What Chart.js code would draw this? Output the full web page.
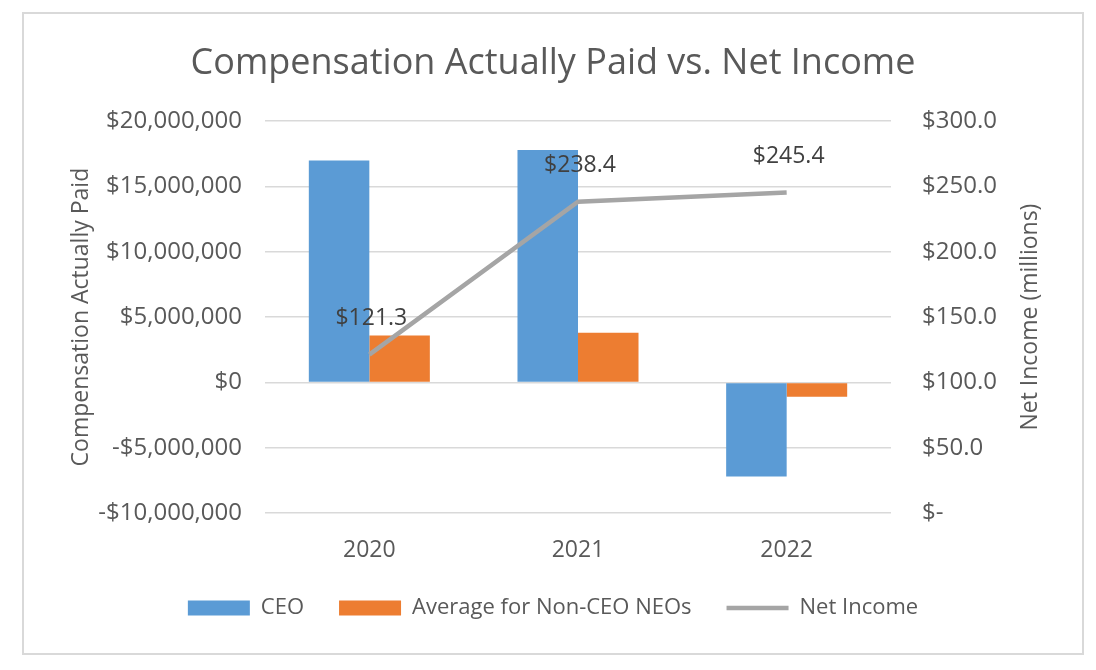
<!DOCTYPE html>
<html>
<head>
<meta charset="utf-8">
<script src="https://cdn.jsdelivr.net/npm/chart.js@4"></script>
<style>
  body { margin: 0; background: #fff; width: 1096px; height: 670px; overflow: hidden; }
  #wrap { position: absolute; left: 22px; top: 12px; width: 1058px; height: 639px; border: 2px solid #d9d9d9; }
</style>
</head>
<body>
<div id="wrap"><canvas id="chart"></canvas></div>
<script>
// values
const years = ["2020", "2021", "2022"]
const ceoPaid = [17000000, 17800000, -7200000]
const neoPaid = [3600000, 3800000, -1100000]
const netIncome = [121.3, 238.4, 245.4]

const textColor = "#595959"
const fontFamily = "'Open Sans', sans-serif"

const money = new Intl.NumberFormat("en-US", { maximumFractionDigits: 0 })
function formatPaid(v) {
  return (v < 0 ? "-$" : "$") + money.format(Math.abs(v))
}
function formatIncome(v) {
  return v === 0 ? "$-" : "$" + v.toFixed(1)
}

// labels above the net income points
const pointLabels = {
  id: "pointLabels",
  afterDatasetsDraw(chart) {
    const meta = chart.getDatasetMeta(2)
    const ctx = chart.ctx
    ctx.save()
    ctx.font = "23px " + fontFamily
    ctx.fillStyle = "#404040"
    ctx.textAlign = "center"
    ctx.textBaseline = "middle"
    meta.data.forEach((pt, i) => {
      ctx.fillText(formatIncome(netIncome[i]), pt.x + 2, pt.y - 36)
    })
    ctx.restore()
  }
}

// right axis title, reading bottom to top like the left one
const rightTitle = {
  id: "rightTitle",
  afterDraw(chart) {
    const { ctx, chartArea } = chart
    const scale = chart.scales.y1
    ctx.save()
    ctx.font = "23px " + fontFamily
    ctx.fillStyle = textColor
    ctx.textAlign = "center"
    ctx.textBaseline = "middle"
    ctx.translate(scale.right - 52, (chartArea.top + chartArea.bottom) / 2)
    ctx.rotate(-Math.PI / 2)
    ctx.fillText("Net Income (millions)", 0, 0)
    ctx.restore()
  }
}

new Chart(document.getElementById("chart"), {
  type: "bar",
  data: {
    labels: years,
    datasets: [
      {
        label: "CEO",
        data: ceoPaid,
        backgroundColor: "#5b9bd5",
        yAxisID: "y",
        order: 1
      },
      {
        label: "Average for Non-CEO NEOs",
        data: neoPaid,
        backgroundColor: "#ed7d31",
        yAxisID: "y",
        order: 1
      },
      {
        type: "line",
        label: "Net Income",
        data: netIncome,
        borderColor: "#a5a5a5",
        backgroundColor: "#a5a5a5",
        borderWidth: 4.5,
        pointRadius: 0,
        tension: 0,
        yAxisID: "y1",
        order: 0
      }
    ]
  },
  options: {
    responsive: true,
    maintainAspectRatio: false,
    animation: false,
    categoryPercentage: 0.58,
    barPercentage: 1,
    layout: { padding: { left: 0, right: 0, top: 0, bottom: 24 } },
    plugins: {
      title: {
        display: true,
        text: "Compensation Actually Paid vs. Net Income",
        color: textColor,
        font: { family: fontFamily, size: 36, weight: "normal" },
        padding: { top: 28, bottom: 36 }
      },
      legend: {
        position: "bottom",
        labels: {
          color: textColor,
          font: { family: fontFamily, size: 22 },
          usePointStyle: true,
          pointStyleWidth: 62,
          boxHeight: 15,
          padding: 35,
          sort: (a, b) => a.datasetIndex - b.datasetIndex,
          generateLabels(chart) {
            const items = Chart.defaults.plugins.legend.labels.generateLabels(chart)
            items.forEach(item => {
              if (item.datasetIndex === 2) {
                item.pointStyle = "line"
                item.lineWidth = 4.5
              } else {
                item.pointStyle = "rect"
                item.lineWidth = 0
              }
            })
            return items
          }
        }
      },
      tooltip: { enabled: false }
    },
    scales: {
      x: {
        grid: { display: false },
        border: { display: false },
        ticks: { color: textColor, font: { family: fontFamily, size: 23 }, padding: 16 },
        afterFit(scale) { scale.height = 49 }
      },
      y: {
        position: "left",
        min: -10000000,
        max: 20000000,
        ticks: {
          stepSize: 5000000,
          color: textColor,
          font: { family: fontFamily, size: 24 },
          padding: 23,
          callback: v => formatPaid(v)
        },
        grid: { color: "#d9d9d9", lineWidth: 1.5, drawTicks: false },
        border: { display: false },
        title: {
          display: true,
          text: "Compensation Actually Paid",
          color: textColor,
          font: { family: fontFamily, size: 23 },
          padding: { top: 44, bottom: 0 }
        },
        afterFit(scale) { scale.width = 241 }
      },
      y1: {
        position: "right",
        min: 0,
        max: 300,
        ticks: {
          stepSize: 50,
          color: textColor,
          font: { family: fontFamily, size: 24 },
          padding: 31,
          callback: v => formatIncome(v)
        },
        grid: { drawOnChartArea: false, drawTicks: false },
        border: { display: false },
        afterFit(scale) { scale.width = 191 }
      }
    }
  },
  plugins: [pointLabels, rightTitle]
})
</script>
</body>
</html>
